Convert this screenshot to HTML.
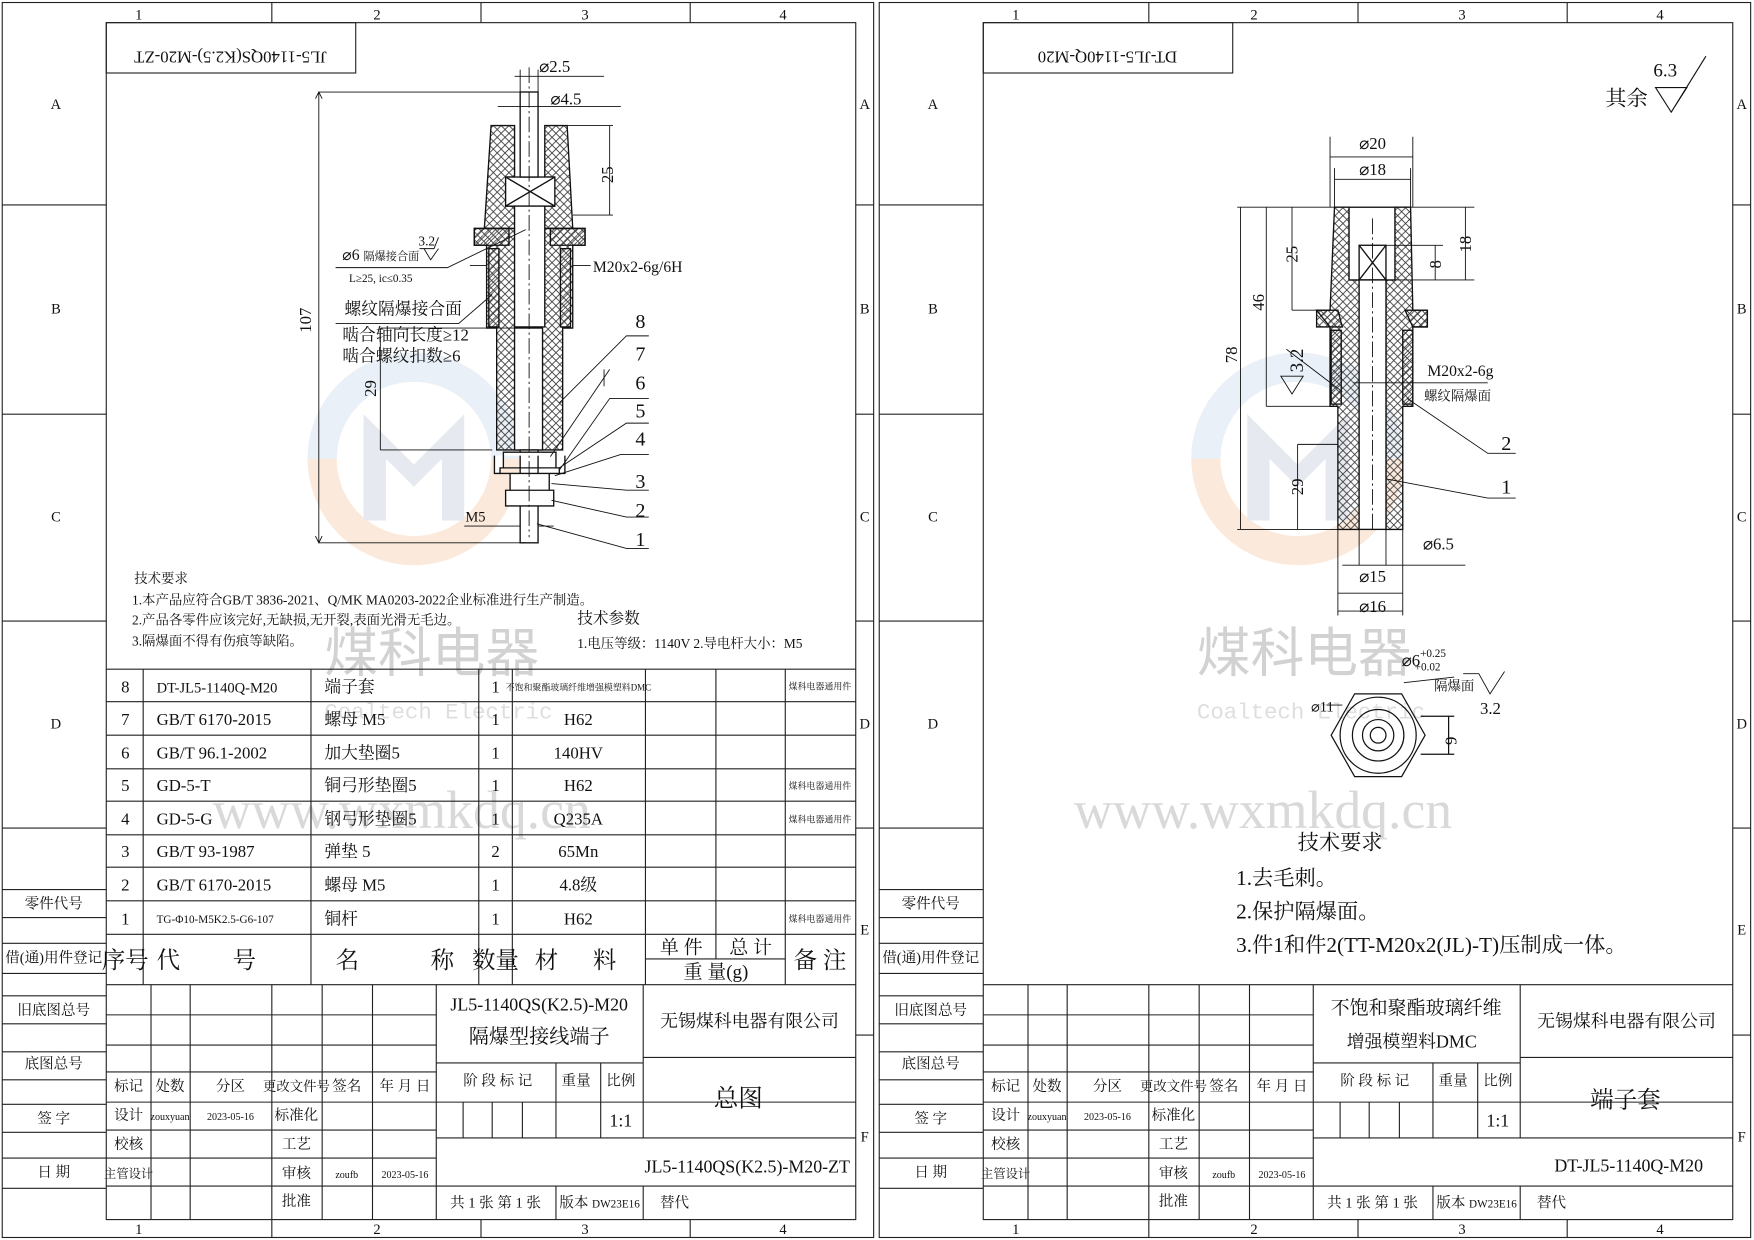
<!DOCTYPE html>
<html><head><meta charset="utf-8"><style>
html,body{margin:0;padding:0;background:#fff}
svg{display:block}
text{font-family:"Liberation Serif","Noto Serif CJK SC",serif;fill:#111}
.c{text-anchor:middle}
text.wm1{fill:#d2d2d2;font-family:"Noto Sans CJK SC",sans-serif}
text.wm2{fill:#d9d9d9;font-family:"Liberation Serif",serif}
text.wm3{fill:#dedede;font-family:"Liberation Mono",monospace}
</style></head><body>
<svg width="1754" height="1240" viewBox="0 0 1568 1108" xmlns="http://www.w3.org/2000/svg">
<defs>
<pattern id="h" width="7" height="7" patternUnits="userSpaceOnUse"><path d="M0 0L7 7M7 0L0 7" stroke="#333" stroke-width="0.7"/></pattern>
<pattern id="d" width="6" height="6" patternUnits="userSpaceOnUse"><path d="M0 6L6 0" stroke="#333" stroke-width="0.7"/></pattern>
<g id="wm">
<circle r="82" fill="none" stroke="#fbeadc" stroke-width="26"/>
<path d="M-82 0A82 82 0 0 1 82 0" fill="none" stroke="#e9f0f7" stroke-width="26"/>
<path d="M-45 55V-40L0 5L45-40V55H25V0L0 25L-25 0V55Z" fill="#e6e9ef"/>
</g>
<g id="frame" fill="none" stroke="#222" stroke-width="1">
<rect x="2" y="2" width="779" height="1104"/>
<rect x="95" y="20" width="670" height="1070"/>
<path d="M243 2V20M430 2V20M617 2V20M243 1090V1106M430 1090V1106M617 1090V1106"/>
<path d="M2 183H95M2 370H95M2 555H95M2 740H95M765 183H781M765 370H781M765 555H781M765 740H781M765 925H781"/>
<path d="M2 795H95M2 820H95M2 843H95M2 870H95M2 890H95M2 915H95M2 940H95M2 965H95M2 987H95M2 1012H95M2 1035H95M2 1062H95"/>
<path d="M95 880H765M95 907H390M95 934H390M95 958H390M95 985H765M95 1010H390M95 1035H390M95 1060H765M390 1017H765M390 950H575M575 945H765"/>
<path d="M135 880V1090M170 880V1090M243 880V1090M288 880V1090M333 880V1090M390 880V1090M575 880V1017M575 1060V1090M497 950V1017M537 950V1017M414 985V1017M440 985V1017M467 985V1017M497 1060V1090"/>
</g>
<g id="ftext" font-size="13">
<text x="124" y="17" class="c">1</text><text x="337" y="17" class="c">2</text><text x="523" y="17" class="c">3</text><text x="700" y="17" class="c">4</text>
<text x="124" y="1103" class="c">1</text><text x="337" y="1103" class="c">2</text><text x="523" y="1103" class="c">3</text><text x="700" y="1103" class="c">4</text>
<text x="50" y="97" class="c">A</text><text x="50" y="280" class="c">B</text><text x="50" y="466" class="c">C</text><text x="50" y="651" class="c">D</text>
<text x="773" y="97" class="c">A</text><text x="773" y="280" class="c">B</text><text x="773" y="466" class="c">C</text><text x="773" y="651" class="c">D</text><text x="773" y="835" class="c">E</text><text x="773" y="1020" class="c">F</text>
<text x="48" y="812" class="c">零件代号</text><text x="48" y="860" class="c">借(通)用件登记</text><text x="48" y="907" class="c">旧底图总号</text><text x="48" y="955" class="c">底图总号</text><text x="48" y="1004" class="c">签 字</text><text x="48" y="1052" class="c">日 期</text>
<text x="115" y="975" class="c">标记</text><text x="152" y="975" class="c">处数</text><text x="206" y="975" class="c">分区</text><text x="265" y="975" class="c" font-size="12">更改文件号</text><text x="310" y="975" class="c">签名</text><text x="362" y="975" class="c">年 月 日</text>
<text x="115" y="1001" class="c">设计</text><text x="115" y="1027" class="c">校核</text><text x="115" y="1053" class="c" font-size="11">主管设计</text>
<text x="152" y="1001" class="c" font-size="9">zouxyuan</text><text x="206" y="1001" class="c" font-size="9">2023-05-16</text>
<text x="265" y="1001" class="c">标准化</text><text x="265" y="1027" class="c">工艺</text><text x="265" y="1053" class="c">审核</text><text x="265" y="1078" class="c">批准</text>
<text x="310" y="1053" class="c" font-size="9">zoufb</text><text x="362" y="1053" class="c" font-size="9">2023-05-16</text>
<text x="445" y="970" class="c">阶 段 标 记</text><text x="515" y="970" class="c">重量</text><text x="555" y="970" class="c">比例</text>
<text x="555" y="1007" class="c" font-size="16">1:1</text>
<text x="443" y="1079" class="c">共 1 张  第 1 张</text><text x="536" y="1079" class="c">版本 <tspan font-size="10">DW23E16</tspan></text><text x="590" y="1079">替代</text>
<text x="670" y="918" class="c" font-size="16">无锡煤科电器有限公司</text>
</g>
</defs>

<!-- watermarks -->
<use href="#wm" x="370" y="410"/>
<use href="#wm" x="1160" y="410"/>
<g font-size="48">
<text class="wm1" x="290" y="600">煤科电器</text>
<text class="wm1" x="1070" y="600">煤科电器</text>
<text class="wm2" x="190" y="740">www.wxmkdq.cn</text>
<text class="wm2" x="960" y="740">www.wxmkdq.cn</text>
<text class="wm3" x="290" y="642" font-size="20">Coaltech Electric</text>
<text class="wm3" x="1070" y="642" font-size="20">Coaltech Electric</text>
</g>

<use href="#frame"/><use href="#ftext"/>
<g transform="translate(784,0)"><use href="#frame"/><use href="#ftext"/></g>

<!-- ===== LEFT SHEET SPECIFIC ===== -->
<rect x="95" y="20" width="223" height="45" fill="none" stroke="#222"/>
<text x="206" y="38" class="c" font-size="15" transform="rotate(180 206 42)">JL5-1140QS(K2.5)-M20-ZT</text>
<!-- BOM -->
<g fill="none" stroke="#222">
<path d="M95 598H765M95 627H765M95 657H765M95 687H765M95 716H765M95 746H765M95 775H765M95 805H765M95 835H765M577 857H702"/>
<path d="M128 598V880M278 598V880M428 598V880M458 598V880M577 598V880M640 598V857M702 598V880"/>
</g>
<g font-size="15">
<text x="112" y="619" class="c">8</text><text x="140" y="619" font-size="13">DT-JL5-1140Q-M20</text><text x="290" y="619">端子套</text><text x="443" y="619" class="c">1</text><text x="517" y="617" class="c" font-size="8">不饱和聚酯玻璃纤维增强模塑料DMC</text><text x="733" y="616" class="c" font-size="8">煤科电器通用件</text>
<text x="112" y="648" class="c">7</text><text x="140" y="648">GB/T 6170-2015</text><text x="290" y="648">螺母 M5</text><text x="443" y="648" class="c">1</text><text x="517" y="648" class="c">H62</text>
<text x="112" y="678" class="c">6</text><text x="140" y="678">GB/T 96.1-2002</text><text x="290" y="678">加大垫圈5</text><text x="443" y="678" class="c">1</text><text x="517" y="678" class="c">140HV</text>
<text x="112" y="707" class="c">5</text><text x="140" y="707">GD-5-T</text><text x="290" y="707">铜弓形垫圈5</text><text x="443" y="707" class="c">1</text><text x="517" y="707" class="c">H62</text><text x="733" y="705" class="c" font-size="8">煤科电器通用件</text>
<text x="112" y="737" class="c">4</text><text x="140" y="737">GD-5-G</text><text x="290" y="737">钢弓形垫圈5</text><text x="443" y="737" class="c">1</text><text x="517" y="737" class="c">Q235A</text><text x="733" y="735" class="c" font-size="8">煤科电器通用件</text>
<text x="112" y="766" class="c">3</text><text x="140" y="766">GB/T 93-1987</text><text x="290" y="766">弹垫 5</text><text x="443" y="766" class="c">2</text><text x="517" y="766" class="c">65Mn</text>
<text x="112" y="796" class="c">2</text><text x="140" y="796">GB/T 6170-2015</text><text x="290" y="796">螺母 M5</text><text x="443" y="796" class="c">1</text><text x="517" y="796" class="c">4.8级</text>
<text x="112" y="826" class="c">1</text><text x="140" y="825" font-size="10">TG-Φ10-M5K2.5-G6-107</text><text x="290" y="826">铜杆</text><text x="443" y="826" class="c">1</text><text x="517" y="826" class="c">H62</text><text x="733" y="824" class="c" font-size="8">煤科电器通用件</text>
<g font-size="21"><text x="112" y="865" class="c">序号</text><text x="140" y="865">代</text><text x="208" y="865">号</text><text x="300" y="865">名</text><text x="385" y="865">称</text><text x="443" y="865" class="c">数量</text><text x="478" y="865">材</text><text x="530" y="865">料</text><text x="733" y="865" class="c">备 注</text></g>
<text x="609" y="852" class="c" font-size="17">单 件</text><text x="671" y="852" class="c" font-size="17">总 计</text><text x="640" y="874" class="c" font-size="17">重 量(g)</text>
</g>
<text x="482" y="903" class="c" font-size="16">JL5-1140QS(K2.5)-M20</text>
<text x="482" y="932" class="c" font-size="18">隔爆型接线端子</text>
<text x="660" y="989" class="c" font-size="22">总图</text>
<text x="668" y="1048" class="c" font-size="16">JL5-1140QS(K2.5)-M20-ZT</text>
<!-- tech requirements -->
<g font-size="12">
<text x="120" y="521">技术要求</text>
<text x="118" y="540">1.本产品应符合GB/T 3836-2021、Q/MK MA0203-2022企业标准进行生产制造。</text>
<text x="118" y="558">2.产品各零件应该完好,无缺损,无开裂,表面光滑无毛边。</text>
<text x="118" y="577">3.隔爆面不得有伤痕等缺陷。</text>
<text x="516" y="557" font-size="14">技术参数</text>
<text x="516" y="579">1.电压等级：1140V    2.导电杆大小：M5</text>
</g>
<!-- left drawing -->
<g stroke="#111" stroke-width="1.2">
<path d="M439 112H460V158H452V184H496V158H487V112H507L512 204H433Z" fill="url(#h)"/>
<path d="M424 204H523V219H512V293H503V402H444V293H435V219H424Z" fill="url(#h)"/>
<path d="M424 204H455V219H424ZM492 204H523V219H492Z" fill="url(#d)"/>
<path d="M437 222H446V292H437ZM501 222H510V292H501Z" fill="url(#d)"/>
<rect x="452" y="158" width="44" height="26" fill="#fff"/><path d="M452 158L496 184M496 158L452 184" fill="none"/>
<rect x="460" y="184" width="27" height="108" fill="#fff"/>
<rect x="465" y="82" width="16" height="76" fill="#fff"/>
<rect x="460" y="293" width="25" height="109" fill="#fff"/>
<rect x="465" y="402" width="16" height="83" fill="#fff"/>
<path d="M450 404H497V418H450ZM447 418H500V423H447ZM456 423H491V438H456ZM452 438H495V452H452ZM442 407V423H505V407" fill="#fff"/>
</g>
<g stroke="#111" stroke-width="0.8" fill="none">
<path d="M473 60V480" stroke-dasharray="14 3 2 3"/>
<path d="M285 82H465M285 485H470M285 82V485M282 88L285 82L288 88M282 479L285 485L288 479"/>
<path d="M507 112H548M512 192H548M545 112V192"/>
<path d="M440 402H340M340 293V402M465 293H340"/>
<path d="M460 68H540M465 62V82M481 62V82"/>
<path d="M445 95H555"/>
<path d="M300 239H400L470 205"/>
<path d="M375 222H388L392 212M379 222L385 232L392 222"/>
<path d="M435 237H420M512 237H528"/>
<path d="M300 289H410L440 263"/>
<path d="M500 360L560 300H580M492 408L545 330M540 330V345M500 420L545 356H580M500 418L560 378H580M496 425L555 406H580M493 432L560 438H580M493 447L560 462H580M480 468L560 490H580M415 470H465M481 470H495"/>
</g>
<g font-size="15">
<text x="482" y="64">⌀2.5</text><text x="492" y="93">⌀4.5</text>
<text x="548" y="156" transform="rotate(-90 548 156)" class="c">25</text>
<text x="278" y="286" transform="rotate(-90 278 286)" class="c">107</text>
<text x="306" y="232" font-size="14">⌀6 <tspan font-size="10">隔爆接合面</tspan></text><text x="374" y="219" font-size="12">3.2</text>
<text x="312" y="252" font-size="10">L≥25, ic≤0.35</text>
<text x="530" y="243" font-size="14">M20x2-6g/6H</text>
<text x="308" y="281">螺纹隔爆接合面</text><text x="306" y="304">啮合轴向长度≥12</text><text x="306" y="323">啮合螺纹扣数≥6</text>
<text x="336" y="347" transform="rotate(-90 336 347)" class="c">29</text>
<text x="416" y="466" font-size="13">M5</text>
<text x="568" y="293" font-size="18">8</text><text x="568" y="322" font-size="18">7</text><text x="568" y="348" font-size="18">6</text><text x="568" y="373" font-size="18">5</text><text x="568" y="398" font-size="18">4</text><text x="568" y="436" font-size="18">3</text><text x="568" y="462" font-size="18">2</text><text x="568" y="488" font-size="18">1</text>
</g>

<!-- ===== RIGHT SHEET SPECIFIC ===== -->
<rect x="879" y="20" width="223" height="45" fill="none" stroke="#222"/>
<text x="990" y="38" class="c" font-size="15" transform="rotate(180 990 42)">DT-JL5-1140Q-M20</text>
<text x="1435" y="94" font-size="19">其余</text>
<path d="M1480 78H1508L1494 100ZM1494 100L1525 50" fill="none" stroke="#111"/>
<text x="1478" y="68" font-size="17">6.3</text>
<text x="1266" y="906" class="c" font-size="17">不饱和聚酯玻璃纤维</text>
<text x="1262" y="936" class="c" font-size="16">增强模塑料DMC</text>
<text x="1453" y="990" class="c" font-size="21">端子套</text>
<text x="1456" y="1047" class="c" font-size="16">DT-JL5-1140Q-M20</text>
<g font-size="19">
<text x="1160" y="759">技术要求</text>
<text x="1105" y="791">1.去毛刺。</text>
<text x="1105" y="821">2.保护隔爆面。</text>
<text x="1105" y="851">3.件1和件2(TT-M20x2(JL)-T)压制成一体。</text>
</g>
<!-- right drawing -->
<g stroke="#111" stroke-width="1.2">
<path d="M1193 185H1206V250H1247V185H1261L1263 277H1276V292H1263V363H1254V473H1239V250H1215V473H1196V363H1189V292H1177V277H1189Z" fill="url(#h)"/>
<path d="M1177 277H1196L1200 292H1189ZM1256 277H1276V292H1263Z" fill="url(#d)"/>
<rect x="1190" y="295" width="9" height="66" fill="url(#d)"/><rect x="1254" y="295" width="9" height="66" fill="url(#d)"/>
<rect x="1206" y="185" width="41" height="65" fill="#fff"/>
<rect x="1215" y="219" width="24" height="31" fill="#fff"/><path d="M1215 219L1239 250M1239 219L1215 250" fill="none"/>
<rect x="1215" y="250" width="24" height="223" fill="#fff"/>
</g>
<g stroke="#111" stroke-width="0.8" fill="none">
<path d="M1227 195V475" stroke-dasharray="14 3 2 3"/>
<path d="M1189 122V185M1263 122V185M1189 140H1263M1193 160H1261M1193 150V185M1261 150V185"/>
<path d="M1106 185H1193M1106 473H1196M1109 185V473M1132 185V363M1132 363H1189M1155 185V277M1155 277H1189"/>
<path d="M1160 397H1196M1160 397V473"/>
<path d="M1261 185H1318M1310 185V250M1239 250H1318M1239 219H1290M1283 219V250"/>
<path d="M1196 473V550M1254 473V550M1215 473V505M1239 473V505M1196 530H1254M1196 546H1254M1200 505H1310"/>
<path d="M1150 312L1200 350M1145 336H1165L1155 352Z"/>
<path d="M1210 342H1330M1258 356L1330 405H1355M1240 428L1330 445H1355"/>
<path d="M1308 602H1322L1332 620L1345 600M1255 610L1300 605M1186 630H1200"/>
</g>
<g font-size="15">
<text x="1227" y="133" class="c">⌀20</text><text x="1227" y="156" class="c">⌀18</text>
<text x="1160" y="227" transform="rotate(-90 1160 227)" class="c">25</text>
<text x="1130" y="270" transform="rotate(-90 1130 270)" class="c">46</text>
<text x="1106" y="317" transform="rotate(-90 1106 317)" class="c">78</text>
<text x="1165" y="435" transform="rotate(-90 1165 435)" class="c">29</text>
<text x="1288" y="236" transform="rotate(-90 1288 236)" class="c">8</text>
<text x="1315" y="218" transform="rotate(-90 1315 218)" class="c">18</text>
<text x="1165" y="322" transform="rotate(-90 1165 322)" class="c" font-size="17">3.2</text>
<text x="1276" y="336" font-size="14">M20x2-6g</text><text x="1273" y="358" font-size="12">螺纹隔爆面</text>
<text x="1342" y="402" font-size="18">2</text><text x="1342" y="441" font-size="18">1</text>
<text x="1272" y="491">⌀6.5</text><text x="1227" y="520" class="c">⌀15</text><text x="1227" y="547" class="c">⌀16</text>
<text x="1253" y="595">⌀6<tspan font-size="10" dy="-8">+0.25</tspan><tspan font-size="10" dx="-28" dy="12">+0.02</tspan></text>
<text x="1282" y="617" font-size="12">隔爆面</text><text x="1323" y="638">3.2</text>
<text x="1172" y="636" font-size="13">⌀11</text>
<text x="1302" y="662" transform="rotate(-90 1302 662)" class="c">9</text>
</g>
<g stroke="#111" stroke-width="1.1" fill="none">
<polygon points="1274,657 1253,694 1211,694 1190,657 1211,620 1253,620"/>
<circle cx="1232" cy="657" r="34"/><circle cx="1232" cy="657" r="23"/><circle cx="1232" cy="657" r="14"/><circle cx="1232" cy="657" r="7"/>
<path d="M1270 640H1300M1270 674H1300M1295 640V674"/>
</g>
</svg>
</body></html>
